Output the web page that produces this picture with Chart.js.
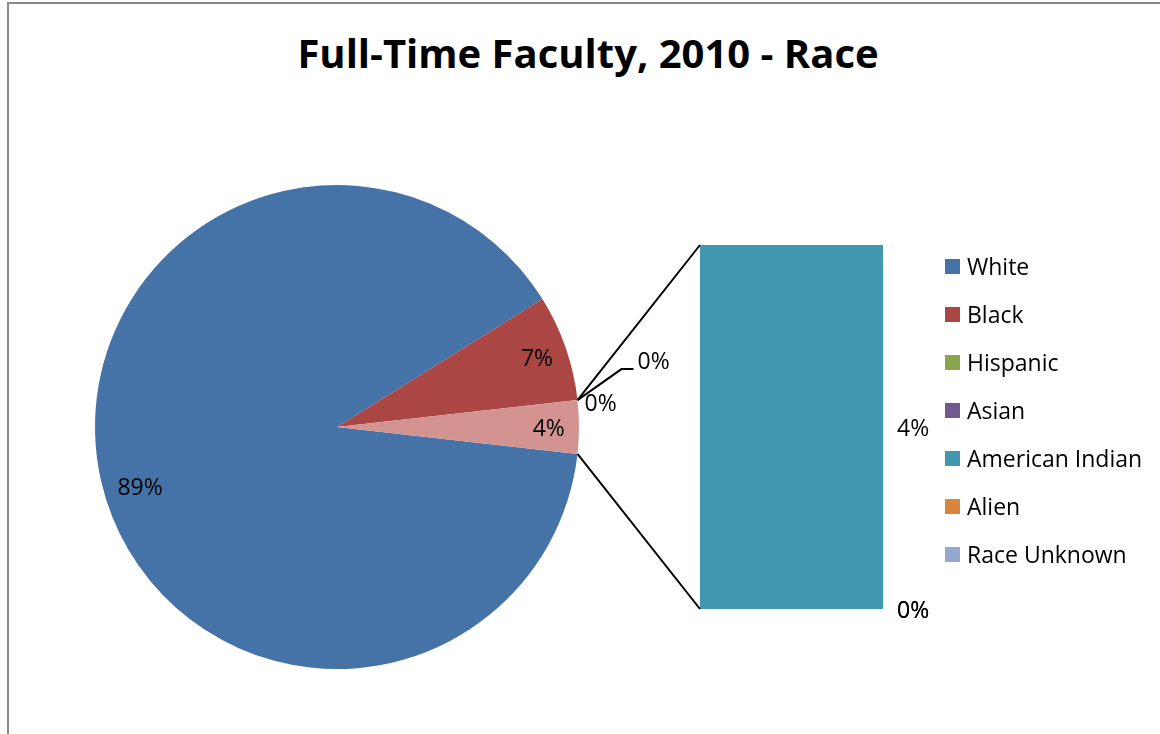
<!DOCTYPE html>
<html>
<head>
<meta charset="utf-8">
<script src="https://cdn.jsdelivr.net/npm/chart.js@4"></script>
<style>
  html, body { margin: 0; padding: 0; background: #fff; overflow: hidden; }
  #wrap { position: relative; width: 1160px; height: 734px; }
  #frame { position: absolute; left: 7px; top: 2px; width: 1200px; height: 800px;
           border-left: 2px solid #8a8a8a; border-top: 2px solid #8a8a8a; }
  canvas { position: absolute; left: 0; top: 0; }
  #title { position: absolute; left: 288px; top: 33px; width: 600px; text-align: center;
           font: bold 40px "Open Sans", sans-serif; line-height: 1; color: #000; white-space: nowrap; }
  #legend { position: absolute; left: 945px; top: 242px; font: 23px "Open Sans", sans-serif; color: #000; }
  .item { display: flex; align-items: center; height: 48px; white-space: nowrap; }
  .box { width: 15px; height: 15px; margin-right: 7px; }
</style>
</head>
<body>
<div id="wrap">
  <div id="frame"></div>
  <div id="title">Full-Time Faculty, 2010 - Race</div>
  <canvas id="pie" width="1160" height="734"></canvas>
  <canvas id="bar" width="1160" height="734"></canvas>
  <div id="legend"></div>
</div>
<script>
const categories = ['White', 'Black', 'Hispanic', 'Asian', 'American Indian', 'Alien', 'Race Unknown'];
const colors = ['#4572A7', '#AA4643', '#89A54E', '#71588F', '#4198AF', '#DB843D', '#93A9CF'];

// primary pie
const pieCategories = ['White', 'Black', 'Hispanic', 'Asian'];
const pieValues = [252, 20, 0, 0];

// secondary bar (the "other" slice)
const barCategories = ['American Indian', 'Alien', 'Race Unknown'];
const barValues = [10, 0, 0];
const otherColor = '#D29391';

const otherTotal = barValues.reduce((a, b) => a + b, 0);
const total = pieValues.reduce((a, b) => a + b, 0) + otherTotal;
const pct = v => Math.round(v / total * 100) + '%';
const labelFont = '23px "Open Sans", sans-serif';

// legend
document.getElementById('legend').innerHTML = categories.map((c, i) =>
  `<div class="item"><span class="box" style="background:${colors[i]}"></span>${c}</div>`
).join('');

const pieLabels = {
  id: 'pieLabels',
  afterDatasetsDraw(chart) {
    const ctx = chart.ctx;
    const data = chart.data.datasets[0].data;
    let zeroCount = 0;
    ctx.save();
    ctx.font = labelFont;
    ctx.fillStyle = '#000';
    ctx.strokeStyle = '#000';
    ctx.lineWidth = 2;
    ctx.textBaseline = 'middle';
    chart.getDatasetMeta(0).data.forEach((arc, i) => {
      const { x, y, startAngle, endAngle, outerRadius } = arc;
      const v = data[i];
      if (v > 0) {
        // biggest slice label sits a little lower, like Excel's best fit
        const mid = (startAngle + endAngle) / 2 - (i === 0 ? 0.07 : 0);
        const r = outerRadius * (i === 0 ? 0.85 : 0.875);
        ctx.textAlign = 'center';
        ctx.fillText(pct(v), x + r * Math.cos(mid), y + r * Math.sin(mid) + 2);
      } else {
        const ex = x + outerRadius * Math.cos(startAngle);
        const ey = y + outerRadius * Math.sin(startAngle);
        ctx.textAlign = 'left';
        if (zeroCount === 0) {
          ctx.beginPath();
          ctx.moveTo(ex, ey);
          ctx.lineTo(ex + 44, ey - 31);
          ctx.lineTo(ex + 56, ey - 31);
          ctx.stroke();
          ctx.fillText(pct(v), ex + 60, ey - 38);
        } else {
          ctx.fillText(pct(v), ex + 7, ey + 4);
        }
        zeroCount++;
      }
    });
    ctx.restore();
  }
};

const pieChart = new Chart(document.getElementById('pie'), {
  type: 'pie',
  data: {
    labels: [...pieCategories, 'Other'],
    datasets: [{
      data: [...pieValues, otherTotal],
      backgroundColor: [...colors.slice(0, 4), otherColor],
      borderWidth: 0
    }]
  },
  options: {
    responsive: false,
    animation: false,
    rotation: 90 + otherTotal / total * 180,
    layout: { padding: { left: 95, top: 185, right: 581, bottom: 65 } },
    plugins: { legend: { display: false }, tooltip: { enabled: false } }
  },
  plugins: [pieLabels]
});

const barExtras = {
  id: 'barExtras',
  afterDraw(chart) {
    const ctx = chart.ctx;
    const yScale = chart.scales.y;
    const first = chart.getDatasetMeta(0).data[0];
    const barLeft = first.x - first.width / 2;
    const other = pieChart.getDatasetMeta(0).data[pieValues.length];
    const { x, y, startAngle, endAngle, outerRadius } = other;
    ctx.save();
    ctx.strokeStyle = '#000';
    ctx.lineWidth = 2;
    ctx.beginPath();
    ctx.moveTo(x + outerRadius * Math.cos(startAngle), y + outerRadius * Math.sin(startAngle));
    ctx.lineTo(barLeft, yScale.getPixelForValue(0));
    ctx.moveTo(x + outerRadius * Math.cos(endAngle), y + outerRadius * Math.sin(endAngle));
    ctx.lineTo(barLeft, yScale.getPixelForValue(otherTotal));
    ctx.stroke();

    ctx.font = labelFont;
    ctx.fillStyle = '#000';
    ctx.textAlign = 'left';
    ctx.textBaseline = 'middle';
    chart.data.datasets.forEach((ds, i) => {
      const bar = chart.getDatasetMeta(i).data[0];
      ctx.fillText(pct(ds.data[0]), bar.x + bar.width / 2 + 14, (bar.y + bar.base) / 2 + 2);
    });
    ctx.restore();
  }
};

new Chart(document.getElementById('bar'), {
  type: 'bar',
  data: {
    labels: ['Other'],
    datasets: barCategories.map((c, i) => ({
      label: c,
      data: [barValues[i]],
      backgroundColor: colors[4 + i],
      borderWidth: 0,
      barPercentage: 1,
      categoryPercentage: 1
    }))
  },
  options: {
    responsive: false,
    animation: false,
    layout: { padding: { left: 700, right: 277, top: 245, bottom: 125 } },
    scales: {
      x: { display: false, stacked: true },
      y: { display: false, stacked: true, reverse: true, min: 0, max: otherTotal }
    },
    plugins: { legend: { display: false }, tooltip: { enabled: false } }
  },
  plugins: [barExtras]
});
</script>
</body>
</html>
